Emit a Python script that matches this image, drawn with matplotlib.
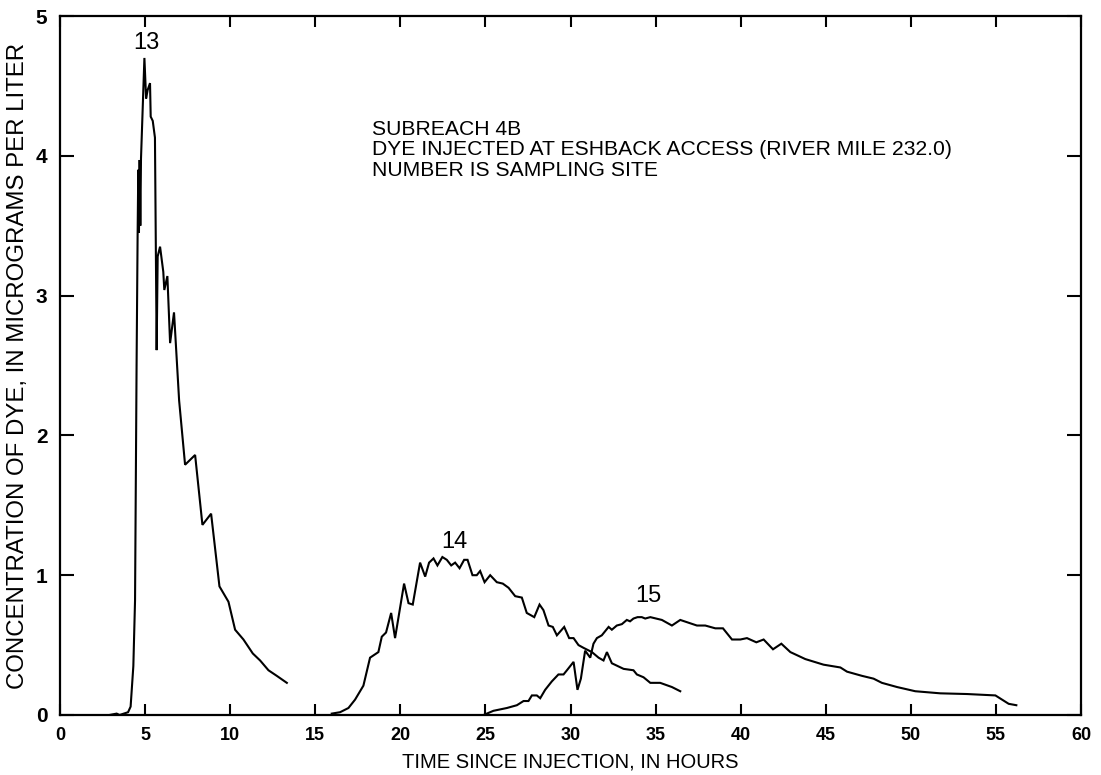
import matplotlib
matplotlib.use("Agg")
from matplotlib import pyplot as plt

plt.rcParams['font.family'] = ['Liberation Sans', 'DejaVu Sans']

# site 13 (hours, ug/L)
t13 = [2.9, 3.33, 3.5, 4.0, 4.15, 4.31, 4.41, 4.5, 4.56, 4.6, 4.64, 4.68, 4.72,
       4.76, 4.96, 5.06, 5.15, 5.29, 5.33, 5.45, 5.58, 5.68, 5.74, 5.88, 6.07,
       6.13, 6.31, 6.47, 6.7, 7.0, 7.35, 7.94, 8.37, 8.88, 9.37, 9.9, 10.29,
       10.78, 11.33, 11.76, 12.25, 12.74, 13.33]
c13 = [0.0, 0.01, 0.0, 0.02, 0.06, 0.35, 0.82, 2.5, 3.42, 3.9, 3.45, 3.97, 3.5,
       3.98, 4.70, 4.41, 4.47, 4.52, 4.28, 4.25, 4.13, 2.61, 3.28, 3.35, 3.17,
       3.04, 3.14, 2.66, 2.88, 2.25, 1.79, 1.86, 1.36, 1.44, 0.92, 0.81, 0.61,
       0.54, 0.44, 0.39, 0.32, 0.28, 0.23]

# site 14
t14 = [15.97, 16.46, 16.95, 17.34, 17.83, 18.22, 18.71, 18.91, 19.16, 19.46,
       19.69, 20.22, 20.48, 20.73, 21.16, 21.46, 21.69, 21.95, 22.18, 22.47,
       22.73, 22.99, 23.22, 23.48, 23.75, 23.95, 24.24, 24.49, 24.69, 24.95,
       25.28, 25.67, 26.02, 26.36, 26.75, 27.14, 27.43, 27.87, 28.18, 28.41,
       28.71, 28.96, 29.2, 29.63, 29.92, 30.18, 30.47, 30.77, 31.26, 31.65,
       31.94, 32.14, 32.43, 33.12, 33.7, 33.9, 34.29, 34.69, 35.27, 35.96, 36.45]
c14 = [0.01, 0.02, 0.05, 0.11, 0.21, 0.41, 0.45, 0.56, 0.59, 0.73,
       0.55, 0.94, 0.80, 0.79, 1.09, 0.99, 1.09, 1.12, 1.07, 1.13,
       1.11, 1.07, 1.09, 1.05, 1.11, 1.11, 1.0, 1.0, 1.03, 0.95,
       1.0, 0.95, 0.94, 0.91, 0.85, 0.84, 0.73, 0.70, 0.79, 0.75,
       0.64, 0.63, 0.57, 0.63, 0.55, 0.55, 0.50, 0.48, 0.45, 0.41,
       0.39, 0.45, 0.37, 0.33, 0.32, 0.29, 0.27, 0.23, 0.23, 0.20, 0.17]

# site 15
t15 = [24.89, 25.47, 26.26, 26.85, 27.24, 27.53, 27.73, 28.02, 28.22, 28.51,
       28.9, 29.29, 29.59, 29.79, 30.18, 30.41, 30.61, 30.86, 31.16, 31.35,
       31.55, 31.84, 32.24, 32.43, 32.72, 33.02, 33.31, 33.5, 33.7, 33.94,
       34.19, 34.39, 34.69, 35.37, 35.96, 36.45, 36.94, 37.43, 37.92, 38.51,
       38.96, 39.49, 39.98, 40.37, 40.92, 41.35, 41.9, 42.39, 42.92, 43.8,
       44.87, 45.86, 46.25, 47.13, 47.81, 48.3, 49.19, 50.26, 51.73, 53.3,
       54.97, 55.75, 56.2]
c15 = [0.0, 0.03, 0.05, 0.07, 0.10, 0.10, 0.14, 0.14, 0.12, 0.18,
       0.24, 0.29, 0.29, 0.32, 0.38, 0.18, 0.26, 0.46, 0.41, 0.51,
       0.55, 0.57, 0.63, 0.61, 0.64, 0.65, 0.68, 0.67, 0.69, 0.70,
       0.70, 0.69, 0.70, 0.68, 0.64, 0.68, 0.66, 0.64, 0.64, 0.62,
       0.62, 0.54, 0.54, 0.55, 0.52, 0.54, 0.47, 0.51, 0.45, 0.40,
       0.36, 0.34, 0.31, 0.28, 0.26, 0.23, 0.20, 0.17, 0.155, 0.15,
       0.14, 0.08, 0.07]

site_labels = ['13', '14', '15']
label_pos = [(5.1, 4.81), (23.2, 1.24), (34.6, 0.85)]

note_lines = ['SUBREACH 4B',
              'DYE INJECTED AT ESHBACK ACCESS (RIVER MILE 232.0)',
              'NUMBER IS SAMPLING SITE']

xticks = [0, 5, 10, 15, 20, 25, 30, 35, 40, 45, 50, 55, 60]
yticks = [0, 1, 2, 3, 4, 5]

fig = plt.figure(figsize=(11.01, 7.75), dpi=100)
ax = fig.add_axes([60 / 1101, 60 / 775, 1021 / 1101, 699 / 775])

for t, c in [(t13, c13), (t14, c14), (t15, c15)]:
    ax.plot(t, c, color='black', lw=1.5, solid_joinstyle='miter')

for lab, (x, y) in zip(site_labels, label_pos):
    ax.text(x, y, lab, ha='center', va='center', fontsize=17)

for i, line in enumerate(note_lines):
    ax.text(18.34, 4.19 - i * 0.147, line, ha='left', va='center', fontsize=15.2)

ax.set_xlim(0, 60)
ax.set_ylim(0, 5)
ax.set_xticks(xticks)
ax.set_yticks(yticks)
ax.tick_params(direction='in', top=True, right=True, width=1.5)
ax.tick_params(axis='x', length=8, pad=9, labelsize=13)
ax.tick_params(axis='y', length=10, pad=9, labelsize=15)
for lab in ax.get_xticklabels() + ax.get_yticklabels():
    lab.set_fontweight('bold')
for s in ax.spines.values():
    s.set_linewidth(1.6)

ax.set_xlabel('TIME SINCE INJECTION, IN HOURS', fontsize=14.5, labelpad=6)
ax.set_ylabel('CONCENTRATION OF DYE, IN MICROGRAMS PER LITER', fontsize=17.3,
              labelpad=5)

fig.savefig('out.png', dpi=100)
